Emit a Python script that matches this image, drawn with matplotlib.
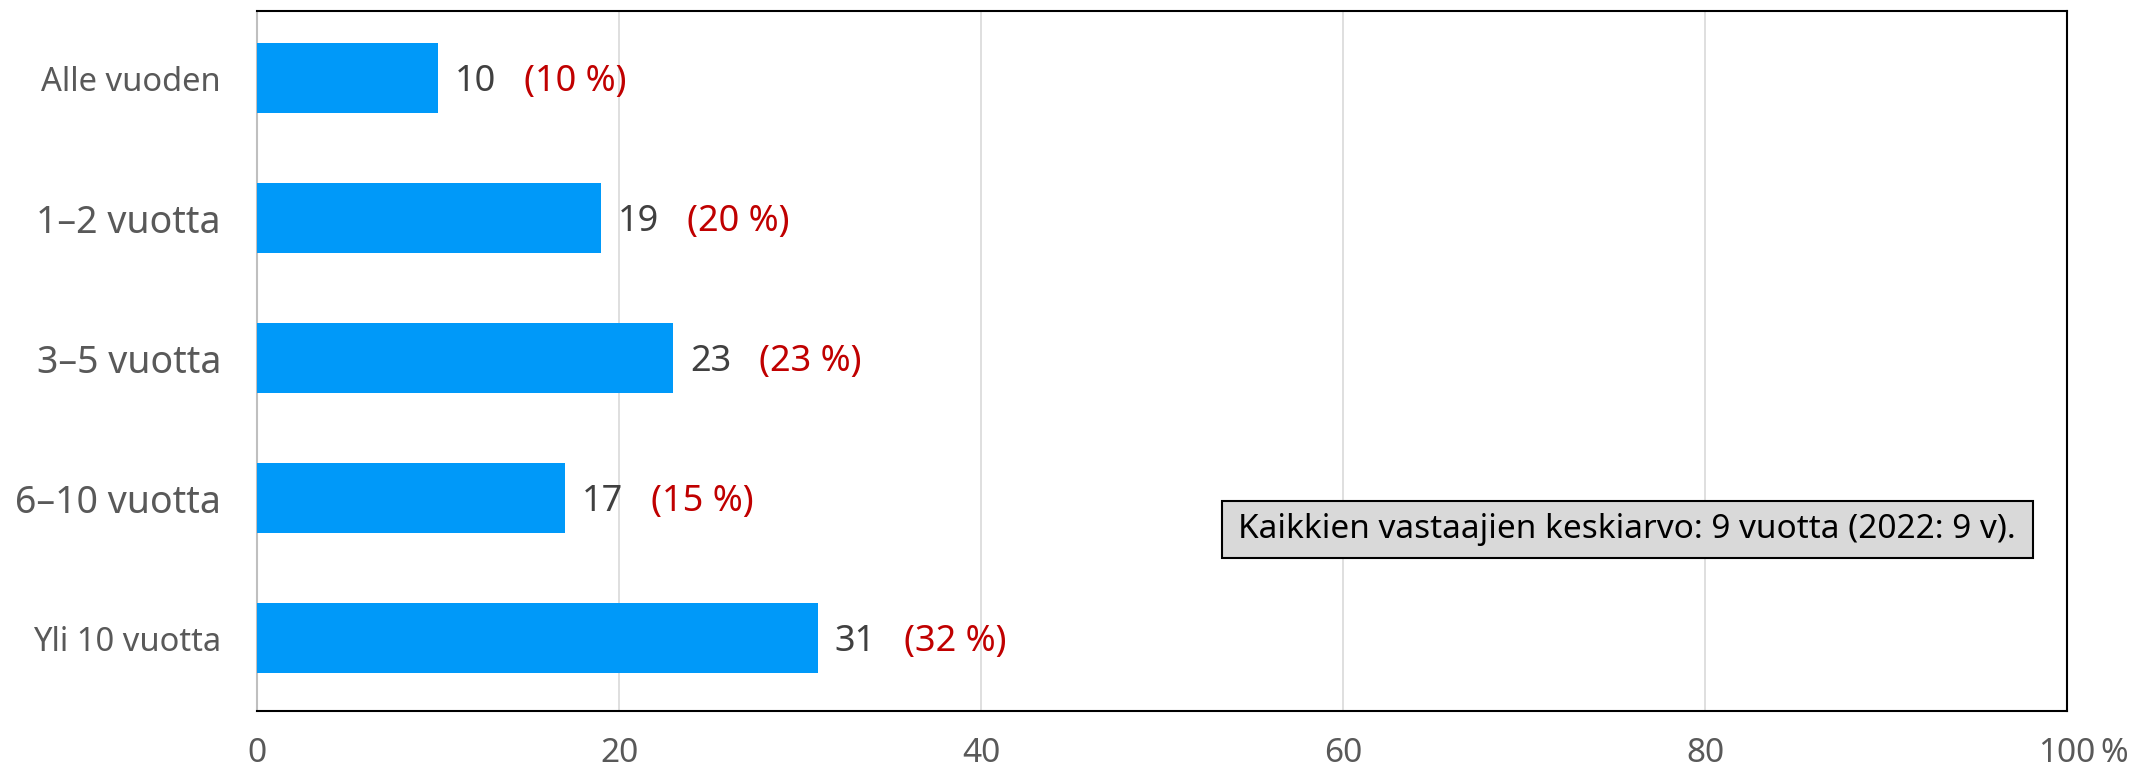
import matplotlib.pyplot as plt
from matplotlib.patches import Rectangle

# data
categories = ['Alle vuoden', '1–2 vuotta', '3–5 vuotta', '6–10 vuotta', 'Yli 10 vuotta']
counts = [10, 19, 23, 17, 31]
pct_labels = ['(10 %)', '(20 %)', '(23 %)', '(15 %)', '(32 %)']
xticks = [0, 20, 40, 60, 80, 100]
xtick_labels = ['0', '20', '40', '60', '80', '100']
note = 'Kaikkien vastaajien keskiarvo: 9 vuotta (2022: 9 v).'

plt.rcParams['font.family'] = ['Noto Sans', 'DejaVu Sans']

fig = plt.figure(figsize=(21.52, 7.69), dpi=100)
ax = fig.add_axes([257 / 2152, 1 - 711 / 769, (2067 - 257) / 2152, (711 - 11) / 769])

ypos = list(range(len(categories)))
ax.barh(ypos, counts, height=0.5, color='#0099F9', zorder=3)

for y, c, p in zip(ypos, counts, pct_labels):
    ax.annotate(str(c), (c, y), xytext=(12, -3), textcoords='offset points',
                va='center', ha='left', fontsize=26, color='#404040')
    ax.annotate(p, (c, y), xytext=(62, -3), textcoords='offset points',
                va='center', ha='left', fontsize=26, color='#C00000')

ax.set_xlim(0, 100)
ax.set_ylim(4.52, -0.48)
ax.set_xticks(xticks)
ax.set_xticklabels(xtick_labels, fontsize=24, color='#595959')
ax.annotate('%', xy=(100, 0), xycoords=('data', 'axes fraction'), xytext=(24, -19),
            textcoords='offset points', ha='left', va='top', fontsize=24, color='#595959')
ax.set_yticks(ypos)
ax.set_yticklabels(categories, fontsize=27, color='#595959')
for lbl in ax.get_yticklabels():
    if lbl.get_text() in ('Alle vuoden', 'Yli 10 vuotta'):
        lbl.set_fontsize(23.5)
ax.tick_params(axis='both', length=0)
ax.tick_params(axis='y', pad=26)
ax.tick_params(axis='x', pad=19)

ax.grid(axis='x', color='#D9D9D9', linewidth=1.2, zorder=0)
for s in ('top', 'right', 'bottom'):
    ax.spines[s].set_color('black')
    ax.spines[s].set_linewidth(1.5)
ax.spines['left'].set_color('#BFBFBF')
ax.spines['left'].set_linewidth(1.5)

# note box
ax.add_patch(Rectangle((0.533, 0.218), 0.448, 0.082, transform=ax.transAxes,
                       facecolor='#D9D9D9', edgecolor='black', linewidth=1.5, zorder=5))
ax.text(0.757, 0.259, note, transform=ax.transAxes, fontsize=24, color='black',
        ha='center', va='center', zorder=6)

fig.savefig('out.png', dpi=100)
